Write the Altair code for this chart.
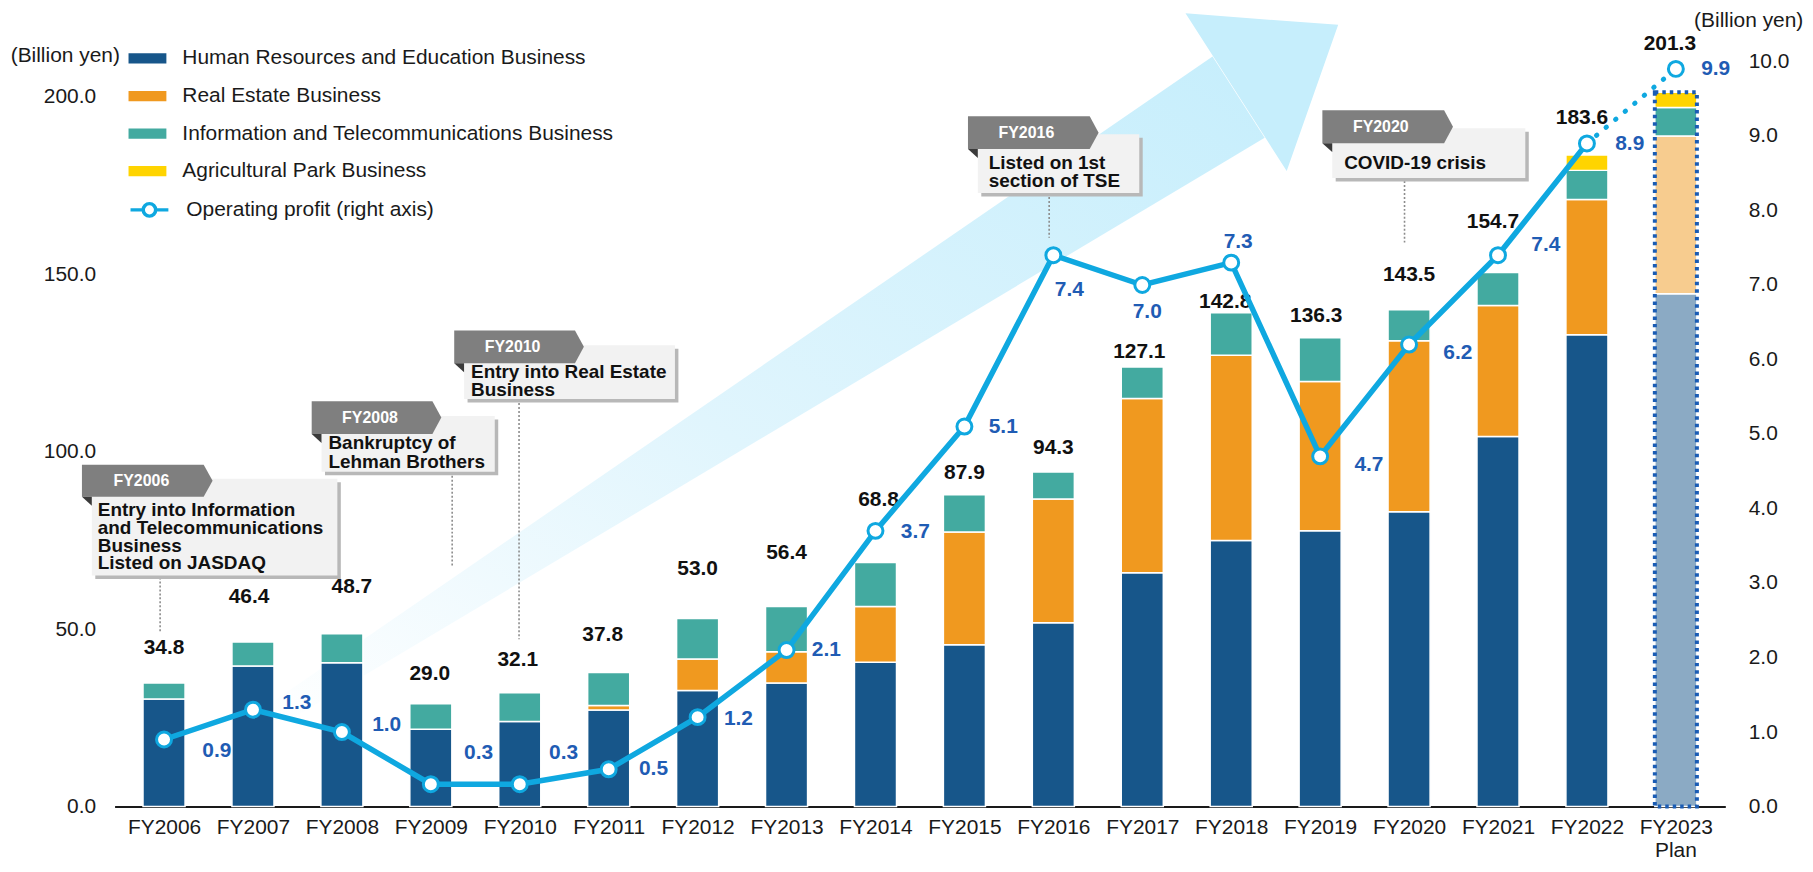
import json
import altair as alt
import pandas as pd

FONT = "Liberation Sans, Arial, sans-serif"

# ---------------- data ----------------
years = [f"FY{y}" for y in range(2006, 2024)]
segments = ["Human Resources and Education Business", "Real Estate Business",
            "Information and Telecommunications Business", "Agricultural Park Business"]
seg_colors = ["#17568a", "#f0991f", "#43aaa0", "#ffd400"]

# segment heights as drawn in the picture (billion yen)
hr = [30.3, 39.6, 40.5, 21.8, 24.0, 27.2, 32.7, 34.8, 40.7, 45.6, 51.8, 65.9, 75.0, 77.7, 83.1, 104.3, 133.0, 144.5]
real_estate = [0, 0, 0, 0, 0, 1.3, 8.9, 8.8, 15.7, 31.8, 34.9, 49.1, 52.2, 42.1, 48.2, 36.9, 38.1, 44.5]
info_tel = [4.5, 6.8, 8.2, 7.2, 8.1, 9.3, 11.4, 12.8, 12.4, 10.5, 7.6, 8.9, 12.0, 12.3, 8.7, 9.3, 8.2, 8.0]
agri = [0] * 16 + [4.3, 4.3]
# labelled net sales totals
totals = [34.8, 46.4, 48.7, 29.0, 32.1, 37.8, 53.0, 56.4, 68.8, 87.9, 94.3, 127.1, 142.8, 136.3, 143.5, 154.7, 183.6, 201.3]
profit = [0.9, 1.3, 1.0, 0.3, 0.3, 0.5, 1.2, 2.1, 3.7, 5.1, 7.4, 7.0, 7.3, 4.7, 6.2, 7.4, 8.9, 9.9]
series_name = "Operating profit (right axis)"

rows = []
for i, yr in enumerate(years):
    for k, vals in enumerate([hr, real_estate, info_tel, agri]):
        if vals[i] > 0:
            rows.append({"year": yr, "xi": i + 0.5, "segment": segments[k], "value": vals[i],
                         "ord": k, "plan": yr == "FY2023"})
seg_df = pd.DataFrame(rows)

stack_top = [round(a + b + c + d, 1) for a, b, c, d in zip(hr, real_estate, info_tel, agri)]
tot_df = pd.DataFrame({"year": years, "xi": [i + 0.5 for i in range(len(years))],
                       "total": totals, "top": stack_top, "profit": profit})
tot_df["total_label"] = [f"{v:.1f}" for v in totals]
tot_df["profit_label"] = [f"{v:.1f}" for v in profit]
tot_df["series"] = series_name

# callouts (category-index units on x, left-axis units on y)
callouts = [
    {"tab": "FY2006", "lines": ["Entry into Information", "and Telecommunications", "Business", "Listed on JASDAQ"],
     "tl": -0.423, "tr": 0.946, "tip": 1.046, "tt": 96.30, "tb": 87.31,
     "fr": -0.312, "fb": 84.79, "bl": -0.312, "br": 2.449, "bt": 92.37, "bb": 65.13,
     "tx": -0.245, "lv": [83.66, 78.61, 73.56, 68.50], "labx": 0.245,
     "rx": 0.456, "r1": 64.57, "r2": 49.41},
    {"tab": "FY2008", "lines": ["Bankruptcy of", "Lehman Brothers"],
     "tl": 2.160, "tr": 3.518, "tip": 3.618, "tt": 114.26, "tb": 105.00,
     "fr": 2.271, "fb": 102.47, "bl": 2.271, "br": 4.219, "bt": 110.05, "bb": 94.33,
     "tx": 2.349, "lv": [102.47, 97.14], "labx": 2.816,
     "rx": 3.740, "r1": 94.33, "r2": 67.66},
    {"tab": "FY2010", "lines": ["Entry into Real Estate", "Business"],
     "tl": 3.763, "tr": 5.121, "tip": 5.221, "tt": 134.20, "tb": 124.93,
     "fr": 3.874, "fb": 122.41, "bl": 3.874, "br": 6.245, "bt": 129.99, "bb": 114.83,
     "tx": 3.952, "lv": [122.41, 117.35], "labx": 4.419,
     "rx": 4.492, "r1": 114.83, "r2": 47.17},
    {"tab": "FY2016", "lines": ["Listed on 1st", "section of TSE"],
     "tl": 9.540, "tr": 10.909, "tip": 11.009, "tt": 194.56, "tb": 185.30,
     "fr": 9.651, "fb": 182.77, "bl": 9.651, "br": 11.466, "bt": 189.51, "bb": 172.93,
     "tx": 9.774, "lv": [181.45, 176.31], "labx": 10.197,
     "rx": 10.453, "r1": 172.93, "r2": 160.29},
    {"tab": "FY2020", "lines": ["COVID-19 crisis"],
     "tl": 13.525, "tr": 14.894, "tip": 14.994, "tt": 196.25, "tb": 186.98,
     "fr": 13.636, "fb": 184.46, "bl": 13.636, "br": 15.807, "bt": 191.19, "bb": 177.15,
     "tx": 13.770, "lv": [181.36], "labx": 14.182,
     "rx": 14.449, "r1": 176.31, "r2": 158.99},
]

# big growth arrow outline (index units, left-axis units)
shaft_x = [1.670, 12.290, 12.876]
shaft_top = [28.64, 211.40, 188.47]
shaft_bot = [20.78, 179.68, 188.47]
head_x = [11.986, 13.124, 13.703]
head_top = [223.56, 221.40, 220.31]
head_bot = [223.56, 179.12, 220.31]

# ---------------- scales / axes ----------------
W, H = 1617, 748
STEP_U = W / 18.0
PX_V = H / 210.0
BAR_W = 0.47 * STEP_U
XS = alt.Scale(domain=[0, 18], nice=False, zero=False)
YL = alt.Scale(domain=[0, 210], nice=False, zero=False)
YR = alt.Scale(domain=[0, 10], nice=False, zero=False)

x_axis = alt.Axis(values=[i + 0.5 for i in range(len(years))],
                  labelExpr=f"{json.dumps(years)}[floor(datum.value)]",
                  labelFont=FONT, labelFontSize=21, labelColor="#1a1a1a", labelAngle=0,
                  labelPadding=10, labelFlush=False, labelOverlap=False, labelBound=False,
                  ticks=False, tickSize=0, domainColor="#1a1a1a", domainWidth=2, grid=False,
                  title=None)

left_axis = alt.Axis(values=[0, 50, 100, 150, 200], format=".1f", labelFont=FONT, labelFontSize=21,
                     labelColor="#1a1a1a", labelPadding=19, labelOverlap=False, ticks=False,
                     domain=False, grid=False,
                     title="(Billion yen)", titleAngle=0, titleX=-50, titleY=-6, titleAlign="center",
                     titleBaseline="middle", titleFont=FONT, titleFontSize=21, titleFontWeight="normal",
                     titleColor="#1a1a1a")

right_axis = alt.Axis(orient="right", values=list(range(11)), format=".1f", labelFont=FONT,
                      labelFontSize=21, labelColor="#1a1a1a", labelPadding=23, labelAlign="left",
                      labelOverlap=False, ticks=False, domain=False, grid=False,
                      title="(Billion yen)", titleAngle=0, titleX=23, titleY=-41, titleAlign="center",
                      titleBaseline="middle", titleFont=FONT, titleFontSize=21, titleFontWeight="normal",
                      titleColor="#1a1a1a")


def XQ(f):
    return alt.X(f, type="quantitative", scale=XS, axis=x_axis, title=None)


def YLq(f, **kw):
    return alt.Y(f, type="quantitative", scale=YL, axis=left_axis, title="(Billion yen)", **kw)


def YRq(f):
    return alt.Y(f, type="quantitative", scale=YR, axis=right_axis, title="(Billion yen)")


# ---------------- annotation layers ----------------
shaft_df = pd.DataFrame({"u": shaft_x, "v": shaft_top, "v2": shaft_bot})
head_df = pd.DataFrame({"u": head_x, "v": head_top, "v2": head_bot})

grad = alt.Gradient(gradient="linear",
                    stops=[alt.GradientStop(offset=0, color="#ffffff"),
                           alt.GradientStop(offset=0.45, color="#e0f5fd"),
                           alt.GradientStop(offset=1, color="#c6eefc")],
                    x1=0, y1=1, x2=1, y2=0)
arrow_shaft = alt.Chart(shaft_df).mark_area(color=grad, interpolate="linear").encode(
    x=XQ("u"), y=YLq("v"), y2=alt.Y2("v2"))
arrow_head = alt.Chart(head_df).mark_area(color="#c6eefc", interpolate="linear").encode(
    x=XQ("u"), y=YLq("v"), y2=alt.Y2("v2"))

sx, sy = 3.5 / STEP_U, 3.5 / PX_V
box_rows, tab_rows, fold_rows, text_rows, rule_rows, lab_rows = [], [], [], [], [], []
for cid, c in enumerate(callouts):
    box_rows.append({"cid": cid, "x1": c["bl"], "x2": c["br"], "y1": c["bt"], "y2": c["bb"],
                     "sx1": c["bl"] + sx, "sx2": c["br"] + sx, "sy1": c["bt"] - sy, "sy2": c["bb"] - sy})
    mid = (c["tt"] + c["tb"]) / 2
    tab_rows += [{"cid": cid, "u": c["tl"], "v": c["tt"], "v2": c["tb"]},
                 {"cid": cid, "u": c["tr"], "v": c["tt"], "v2": c["tb"]},
                 {"cid": cid, "u": c["tip"], "v": mid, "v2": mid}]
    fold_rows += [{"cid": cid, "u": c["tl"], "v": c["tb"], "v2": c["tb"]},
                  {"cid": cid, "u": c["fr"], "v": c["tb"], "v2": c["fb"]}]
    for line, lv in zip(c["lines"], c["lv"]):
        text_rows.append({"u": c["tx"], "v": lv, "t": line})
    lab_rows.append({"u": c["labx"], "v": mid, "t": c["tab"]})
    rule_rows.append({"u": c["rx"], "v": c["r1"], "v2": c["r2"]})

box_df = pd.DataFrame(box_rows)
shadows = alt.Chart(box_df).mark_rect(color="#b8b8b8").encode(
    x=XQ("sx1"), x2=alt.X2("sx2"), y=YLq("sy1"), y2=alt.Y2("sy2"))
boxes = alt.Chart(box_df).mark_rect(color="#f2f2f2").encode(
    x=XQ("x1"), x2=alt.X2("x2"), y=YLq("y1"), y2=alt.Y2("y2"))
tabs = alt.Chart(pd.DataFrame(tab_rows)).mark_area(color="#7f7f7f", interpolate="linear").encode(
    x=XQ("u"), y=YLq("v"), y2=alt.Y2("v2"), detail="cid:N")
folds = alt.Chart(pd.DataFrame(fold_rows)).mark_area(color="#3a3a3a", interpolate="linear").encode(
    x=XQ("u"), y=YLq("v"), y2=alt.Y2("v2"), detail="cid:N")
tab_text = alt.Chart(pd.DataFrame(lab_rows)).mark_text(
    font=FONT, fontSize=16, fontWeight="bold", color="white", align="center", baseline="middle").encode(
    x=XQ("u"), y=YLq("v"), text="t:N")
box_text = alt.Chart(pd.DataFrame(text_rows)).mark_text(
    font=FONT, fontSize=19, fontWeight="bold", color="#111111", align="left", baseline="middle").encode(
    x=XQ("u"), y=YLq("v"), text="t:N")
rules = alt.Chart(pd.DataFrame(rule_rows)).mark_rule(
    color="#8c8c8c", strokeWidth=1.6, strokeDash=[2, 2]).encode(
    x=XQ("u"), y=YLq("v"), y2=alt.Y2("v2"))
plan_text = alt.Chart(pd.DataFrame({"u": [17.5], "v": [-12.6], "t": ["Plan"]})).mark_text(
    font=FONT, fontSize=21, color="#1a1a1a", align="center", baseline="middle").encode(
    x=XQ("u"), y=YLq("v"), text="t:N")

# ---------------- bars ----------------
bar_legend = alt.Legend(title=None, orient="none", legendX=14, legendY=-22, direction="vertical",
                        symbolType="M-1,-0.27H1V0.27H-1Z", symbolSize=1444, symbolStrokeWidth=0,
                        labelFont=FONT, labelFontSize=21, labelColor="#1a1a1a", labelOffset=16,
                        labelLimit=900, rowPadding=8.7, padding=0)

bars = alt.Chart(seg_df).mark_bar(size=BAR_W, stroke="white", strokeWidth=1.5).encode(
    x=XQ("xi"),
    y=YLq("value", stack="zero"),
    color=alt.Color("segment:N", scale=alt.Scale(domain=segments, range=seg_colors), legend=bar_legend),
    order=alt.Order("ord:Q"),
    fillOpacity=alt.condition("datum.plan && datum.ord < 2", alt.value(0.5), alt.value(1.0)),
)

plan_border = alt.Chart(tot_df).transform_filter("datum.year == 'FY2023'").mark_bar(
    size=BAR_W, fillOpacity=0, stroke="#1a5cb4", strokeWidth=4, strokeDash=[3.5, 4]).encode(
    x=XQ("xi"), y=YLq("top"))

# label offsets (dx, gap above bar top) in px
bar_lab_off = {"FY2006": (0, 35), "FY2007": (-4, 45), "FY2008": (10, 47), "FY2009": (-1, 30),
               "FY2010": (-2, 33), "FY2011": (-6, 38), "FY2012": (0, 50), "FY2013": (0, 54),
               "FY2014": (3, 63), "FY2015": (0, 22), "FY2016": (0, 24), "FY2017": (-3, 15),
               "FY2018": (-6, 11), "FY2019": (-4, 22), "FY2020": (0, 35), "FY2021": (-5, 51),
               "FY2022": (-5, 37), "FY2023": (-6, 48)}


def grouped(offsets):
    g = {}
    for yr, off in offsets.items():
        g.setdefault(off, []).append(yr)
    return g


total_layers = []
for (dx, gap), yrs in grouped(bar_lab_off).items():
    total_layers.append(
        alt.Chart(tot_df).transform_filter(alt.FieldOneOfPredicate(field="year", oneOf=yrs)).mark_text(
            font=FONT, fontSize=21, fontWeight="bold", color="#111111", align="center",
            baseline="middle", dx=dx, dy=-gap).encode(
            x=XQ("xi"), y=YLq("top"), text="total_label:N"))

# ---------------- operating profit line ----------------
LINE_C = "#0fa8e0"
line_legend = alt.Legend(title=None, orient="none", legendX=14, legendY=128,
                         symbolType="M-1,0H-0.33M0.33,0H1M0.33,0A0.33,0.33,0,1,1,-0.33,0A0.33,0.33,0,1,1,0.33,0",
                         symbolSize=1444, symbolStrokeWidth=3.5, symbolFillColor="white",
                         labelFont=FONT, labelFontSize=21, labelColor="#1a1a1a", labelOffset=16,
                         labelLimit=900, padding=0)

line_solid = alt.Chart(tot_df).transform_filter("datum.year != 'FY2023'").mark_line(strokeWidth=5.5).encode(
    x=XQ("xi"), y=YRq("profit"),
    stroke=alt.Stroke("series:N", scale=alt.Scale(domain=[series_name], range=[LINE_C]), legend=line_legend))

line_dot = alt.Chart(tot_df).transform_filter("datum.year == 'FY2022' || datum.year == 'FY2023'").mark_line(
    stroke=LINE_C, strokeWidth=5, strokeDash=[0.5, 12], strokeCap="round").encode(
    x=XQ("xi"), y=YRq("profit"))

points = alt.Chart(tot_df).mark_point(shape="circle", filled=True, fill="white", stroke=LINE_C,
                                      strokeWidth=3, size=225, opacity=1).encode(
    x=XQ("xi"), y=YRq("profit"))

line_lab_off = {"FY2006": (53, 12), "FY2007": (44, -7), "FY2008": (45, -7), "FY2009": (48, -31),
                "FY2010": (44, -31), "FY2011": (45, 0), "FY2012": (41, 2), "FY2013": (40, 0),
                "FY2014": (40, 1), "FY2015": (39, 0), "FY2016": (16, 35), "FY2017": (5, 27),
                "FY2018": (7, -21), "FY2019": (49, 9), "FY2020": (49, 8), "FY2021": (48, -10),
                "FY2022": (43, 1), "FY2023": (40, 0)}

profit_layers = []
for (dx, dy), yrs in grouped(line_lab_off).items():
    profit_layers.append(
        alt.Chart(tot_df).transform_filter(alt.FieldOneOfPredicate(field="year", oneOf=yrs)).mark_text(
            font=FONT, fontSize=21, fontWeight="bold", color="#1f5cb4", align="center",
            baseline="middle", dx=dx, dy=dy).encode(
            x=XQ("xi"), y=YRq("profit"), text="profit_label:N"))

left_group = alt.layer(arrow_shaft, arrow_head, rules, shadows, boxes, tabs, folds, tab_text, box_text,
                       plan_text, bars, plan_border, *total_layers)
right_group = alt.layer(line_solid, line_dot, points, *profit_layers)

chart = alt.layer(left_group, right_group).resolve_scale(y="independent").properties(
    width=W, height=H,
    autosize=alt.AutoSizeParams(type="none"),
    padding={"left": 107, "top": 52, "right": 80, "bottom": 52},
).configure_view(strokeWidth=0)

chart.save("out.html", embed_options={"renderer": "svg", "actions": False})
